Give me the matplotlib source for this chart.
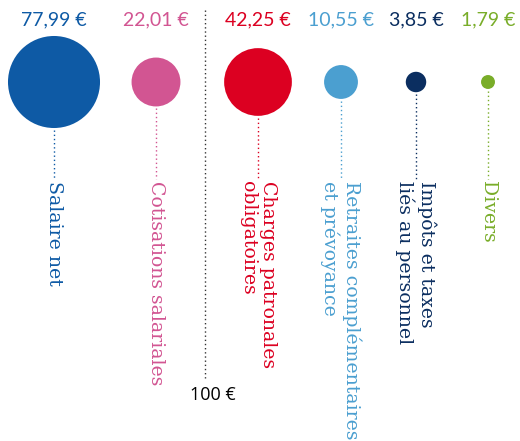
import matplotlib.pyplot as plt
from matplotlib.patches import Circle
import numpy as np

# données : répartition d'un coût salarial de 100 €
categories = ['Salaire net', 'Cotisations salariales', 'Charges patronales\nobligatoires',
              'Retraites complémentaires\net prévoyance', 'Impôts et taxes\nliés au personnel', 'Divers']
valeurs = [77.99, 22.01, 42.25, 10.55, 3.85, 1.79]
etiquettes = ['77,99 €', '22,01 €', '42,25 €', '10,55 €', '3,85 €', '1,79 €']
couleurs = ['#0e5aa5', '#d25592', '#dc0021', '#4b9fd0', '#0b2e60', '#79ad29']
total = '100 €'

# mise en page (pixels)
pos_x = [54, 156, 258, 341, 416, 488]
y_centre = 82
y_label = 25
y_texte = 181
k = 5.21  # rayon = k * sqrt(valeur) -> aire proportionnelle

fig = plt.figure(figsize=(5.2, 4.41), dpi=100)
ax = fig.add_axes([0, 0, 1, 1])
ax.set_xlim(0, 520)
ax.set_ylim(441, 0)
ax.set_aspect('equal')
ax.axis('off')

for x, v, lab, cat, c in zip(pos_x, valeurs, etiquettes, categories, couleurs):
    r = k * np.sqrt(v)
    ax.add_patch(Circle((x, y_centre), r, color=c, lw=0))
    ax.text(x, y_label, lab, color=c, ha='center', va='baseline',
            fontsize=14, family='Lato')
    # trait pointillé sous le cercle
    ax.plot([x, x], [y_centre + r + 2, y_texte - 2], color=c, lw=1,
            linestyle=(0, (1, 2)))
    ax.text(x, y_texte, cat, color=c, rotation=270, ha='center', va='top',
            multialignment='left', fontsize=13.6, family='DejaVu Serif',
            linespacing=1.15)

# trait central 100 €
ax.plot([205, 205], [10, 378], color='#333333', lw=1, linestyle=(0, (1, 2)))
ax.text(213, 395, total, ha='center', va='center', fontsize=13, family='Open Sans', color='black')

plt.savefig('out.png', dpi=100)
